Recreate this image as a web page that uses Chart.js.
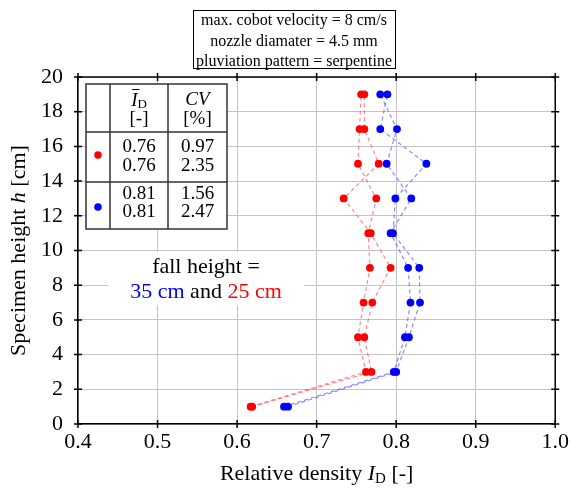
<!DOCTYPE html>
<html>
<head>
<meta charset="utf-8">
<script src="https://cdn.jsdelivr.net/npm/chart.js@4/dist/chart.umd.min.js"></script>
<style>
html,body{margin:0;padding:0;background:#fff;}
canvas{display:block;}
</style>
</head>
<body>
<canvas id="c" width="574" height="490"></canvas>
<script>
// ---- data ----
const heights = [1, 3, 5, 7, 9, 11, 13, 15, 17, 19];
const red25A  = [0.617, 0.762, 0.752, 0.759, 0.767, 0.765, 0.775, 0.752, 0.754, 0.756];
const red25B  = [0.619, 0.769, 0.760, 0.770, 0.793, 0.768, 0.734, 0.778, 0.760, 0.760];
const blue35A = [0.659, 0.797, 0.811, 0.818, 0.815, 0.793, 0.819, 0.788, 0.801, 0.780];
const blue35B = [0.664, 0.800, 0.816, 0.830, 0.829, 0.796, 0.799, 0.838, 0.780, 0.789];
const xTicks = [0.4, 0.5, 0.6, 0.7, 0.8, 0.9, 1.0];
const xTickLabels = ['0.4', '0.5', '0.6', '0.7', '0.8', '0.9', '1.0'];
const yTicks = [0, 2, 4, 6, 8, 10, 12, 14, 16, 18, 20];
const yTickLabels = ['0', '2', '4', '6', '8', '10', '12', '14', '16', '18', '20'];
const infoLines = ['max. cobot velocity = 8 cm/s', 'nozzle diamater = 4.5 mm', 'pluviation pattern = serpentine'];
const tableRed = { id: ['0.76', '0.76'], cv: ['0.97', '2.35'] };
const tableBlue = { id: ['0.81', '0.81'], cv: ['1.56', '2.47'] };

const SERIF = '"Liberation Serif", "Times New Roman", serif';
const toPts = xs => xs.map((x, i) => ({ x: x, y: heights[i] }));

function ds(xs, lineCol, ptCol) {
  return {
    data: toPts(xs),
    showLine: true,
    borderColor: lineCol,
    borderWidth: 1.2,
    borderDash: [4, 3],
    pointBackgroundColor: ptCol,
    pointBorderColor: ptCol,
    pointBorderWidth: 0,
    pointRadius: 3.9,
    tension: 0
  };
}

const decor = {
  id: 'decor',
  afterDraw(chart) {
    const c = chart.ctx;
    const a = chart.chartArea;
    const xs = chart.scales.x, ys = chart.scales.y;
    c.save();
    // top and right border
    c.strokeStyle = '#000';
    c.lineWidth = 1.5;
    c.beginPath();
    c.moveTo(a.left, a.top); c.lineTo(a.right, a.top); c.lineTo(a.right, a.bottom);
    c.stroke();
    // crossing ticks
    c.beginPath();
    xTicks.forEach(v => {
      const px = xs.getPixelForValue(v);
      c.moveTo(px, a.bottom - 4); c.lineTo(px, a.bottom + 4);
      c.moveTo(px, a.top - 4); c.lineTo(px, a.top + 4);
    });
    yTicks.forEach(v => {
      const py = ys.getPixelForValue(v);
      c.moveTo(a.left - 4, py); c.lineTo(a.left + 4, py);
      c.moveTo(a.right - 4, py); c.lineTo(a.right + 4, py);
    });
    c.stroke();

    c.fillStyle = '#000';
    c.textBaseline = 'middle';
    // x title
    {
      const f = '22px ' + SERIF, fi = 'italic 22px ' + SERIF, fs = '15px ' + SERIF;
      const parts = [['Relative density ', f, 0], ['I', fi, 0], ['D', fs, 5], [' [-]', f, 0]];
      let w = 0;
      parts.forEach(p => { c.font = p[1]; w += c.measureText(p[0]).width; });
      let x = (a.left + a.right) / 2 - w / 2;
      const y = 474;
      c.textAlign = 'left';
      parts.forEach(p => { c.font = p[1]; c.fillText(p[0], x, y + p[2]); x += c.measureText(p[0]).width; });
    }
    // y title
    {
      c.save();
      c.translate(19, (a.top + a.bottom) / 2);
      c.rotate(-Math.PI / 2);
      const f = '22px ' + SERIF, fi = 'italic 22px ' + SERIF;
      const parts = [['Specimen height ', f], ['h', fi], [' [cm]', f]];
      let w = 0;
      parts.forEach(p => { c.font = p[1]; w += c.measureText(p[0]).width; });
      let x = -w / 2;
      c.textAlign = 'left';
      parts.forEach(p => { c.font = p[1]; c.fillText(p[0], x, 0); x += c.measureText(p[0]).width; });
      c.restore();
    }

    // info box at top
    {
      c.font = '16px ' + SERIF;
      let mw = 0;
      infoLines.forEach(t => { mw = Math.max(mw, c.measureText(t).width); });
      const bx1 = 395, bx0 = Math.round(bx1 - mw - 6), by0 = 10, by1 = 68;
      c.fillStyle = '#fff';
      c.fillRect(bx0, by0, bx1 - bx0, by1 - by0);
      c.strokeStyle = '#000';
      c.lineWidth = 1;
      c.strokeRect(bx0 + 0.5, by0 + 0.5, bx1 - bx0, by1 - by0);
      c.fillStyle = '#000';
      c.textAlign = 'center';
      const cx = (bx0 + bx1) / 2;
      infoLines.forEach((t, i) => c.fillText(t, cx, 21 + i * 20.5));
    }

    // fall height label
    {
      c.fillStyle = '#fff';
      c.fillRect(108, 252, 196, 53);
      c.font = '22px ' + SERIF;
      const cx = 206;
      c.fillStyle = '#000';
      c.textAlign = 'center';
      c.fillText('fall height =', cx, 267);
      const parts = [['35 cm', '#0000ff'], [' and ', '#000'], ['25 cm', '#ff0000']];
      let w = 0;
      parts.forEach(p => { w += c.measureText(p[0]).width; });
      let x = cx - w / 2;
      c.textAlign = 'left';
      parts.forEach(p => { c.fillStyle = p[1]; c.fillText(p[0], x, 292); x += c.measureText(p[0]).width; });
    }

    // table legend
    {
      const L = 86, C1 = 110, C2 = 168, R = 227;
      const T = 84, R1 = 132, R2 = 182, B = 229;
      c.fillStyle = '#fff';
      c.fillRect(L, T, R - L, B - T);
      c.strokeStyle = '#333';
      c.lineWidth = 1.5;
      c.strokeRect(L, T, R - L, B - T);
      c.beginPath();
      c.moveTo(C1, T); c.lineTo(C1, B);
      c.moveTo(C2, T); c.lineTo(C2, B);
      c.moveTo(L, R1); c.lineTo(R, R1);
      c.moveTo(L, R2); c.lineTo(R, R2);
      c.stroke();
      const m1 = (C1 + C2) / 2, m2 = (C2 + R) / 2;
      c.fillStyle = '#000';
      {
        const fi = 'italic 19px ' + SERIF, fs = '13px ' + SERIF;
        c.font = fi; const wI = c.measureText('I').width;
        c.font = fs; const wD = c.measureText('D').width;
        let x = m1 - (wI + wD) / 2;
        c.textAlign = 'left';
        c.font = fi; c.fillText('I', x, 101);
        c.lineWidth = 1;
        c.strokeStyle = '#000';
        c.beginPath(); c.moveTo(x + 1, 89.5); c.lineTo(x + wI + 2, 89.5); c.stroke();
        c.font = fs; c.fillText('D', x + wI, 105);
        c.textAlign = 'center';
        c.font = '19px ' + SERIF;
        c.fillText('[-]', m1, 119);
        c.font = 'italic 19px ' + SERIF;
        c.fillText('CV', m2, 100);
        c.font = '19px ' + SERIF;
        c.fillText('[%]', m2, 119);
      }
      c.font = '19px ' + SERIF;
      c.textAlign = 'center';
      c.fillText(tableRed.id[0], m1, 147);
      c.fillText(tableRed.id[1], m1, 166);
      c.fillText(tableRed.cv[0], m2, 147);
      c.fillText(tableRed.cv[1], m2, 166);
      c.fillText(tableBlue.id[0], m1, 194);
      c.fillText(tableBlue.id[1], m1, 212);
      c.fillText(tableBlue.cv[0], m2, 194);
      c.fillText(tableBlue.cv[1], m2, 212);
      c.fillStyle = '#ff0000';
      c.beginPath(); c.arc(98, 155, 3.8, 0, Math.PI * 2); c.fill();
      c.fillStyle = '#0000ff';
      c.beginPath(); c.arc(98, 207, 3.8, 0, Math.PI * 2); c.fill();
    }
    c.restore();
  }
};

new Chart(document.getElementById('c'), {
  type: 'scatter',
  data: {
    datasets: [
      ds(red25A, 'rgba(255,60,60,0.6)', '#ff0000'),
      ds(red25B, 'rgba(255,60,60,0.6)', '#ff0000'),
      ds(blue35A, 'rgba(60,60,255,0.6)', '#0000ff'),
      ds(blue35B, 'rgba(60,60,255,0.6)', '#0000ff')
    ]
  },
  options: {
    responsive: false,
    animation: false,
    devicePixelRatio: 1,
    layout: { padding: { top: 77, right: 15, left: 0, bottom: 0 } },
    plugins: { legend: { display: false }, tooltip: { enabled: false } },
    scales: {
      x: {
        type: 'linear', min: 0.4, max: 1.0,
        afterBuildTicks: s => { s.ticks = xTicks.map(v => ({ value: v })); },
        afterFit: s => { s.height = 66; },
        ticks: { callback: (v, i) => xTickLabels[i], color: '#000', font: { family: SERIF, size: 22 }, padding: 5, maxRotation: 0, autoSkip: false },
        grid: { color: '#c4c4c4', lineWidth: 1, drawTicks: false },
        border: { color: '#000', width: 1.5 }
      },
      y: {
        type: 'linear', min: 0, max: 20,
        afterBuildTicks: s => { s.ticks = yTicks.map(v => ({ value: v })); },
        afterFit: s => { s.width = 78; },
        ticks: { callback: (v, i) => yTickLabels[i], color: '#000', font: { family: SERIF, size: 22 }, padding: 15, autoSkip: false },
        grid: { color: '#c4c4c4', lineWidth: 1, drawTicks: false },
        border: { color: '#000', width: 1.5 }
      }
    }
  },
  plugins: [decor]
});
</script>
</body>
</html>
